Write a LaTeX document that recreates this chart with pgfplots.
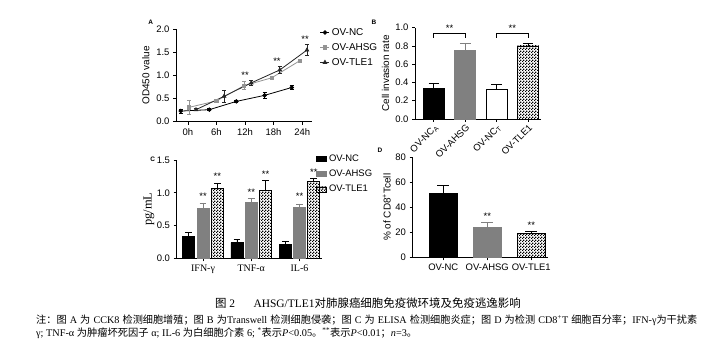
\documentclass[border=0pt]{standalone}
\usepackage{fontspec}
\setmainfont{Liberation Sans}
\newfontfamily\tnr{Liberation Serif}
\newfontfamily\cjk{Noto Sans CJK SC}
\usepackage{pgfplots}
\pgfplotsset{compat=1.18}
\usetikzlibrary{patterns}
\XeTeXlinebreaklocale "zh"
\XeTeXlinebreakskip=0pt plus 3pt

\pgfdeclarepatternformonly{fcheck}{\pgfpointorigin}{\pgfqpoint{3bp}{3bp}}{\pgfqpoint{3bp}{3bp}}{%
 \pgfpathrectangle{\pgfpointorigin}{\pgfqpoint{1.5bp}{1.5bp}}%
 \pgfpathrectangle{\pgfqpoint{1.5bp}{1.5bp}}{\pgfqpoint{1.5bp}{1.5bp}}%
 \pgfusepath{fill}}

\definecolor{ahsg}{gray}{0.5}
\definecolor{ahsgl}{gray}{0.58}
\definecolor{tle}{gray}{0.15}

\tikzset{st/.style={font=\fontsize{9.5}{9.5}\selectfont, inner sep=0pt}}
\pgfplotsset{
  gp/.style={
    scale only axis, anchor=south west, clip=false,
    axis lines=left, axis line style={-, line width=0.8bp, black},
    tick align=outside, tick pos=left, major tick length=3bp,
    tick style={line width=0.8bp, black},
    /pgf/number format/assume math mode=true,
    tick label style={font=\fontsize{9.5}{10}\selectfont},
    label style={font=\fontsize{9.8}{11}\selectfont},
    every axis y label/.style={at={(axis description cs:#1,0.5)}, rotate=90, anchor=center},
    yticklabel style={/pgf/number format/.cd, fixed, fixed zerofill, precision=1},
  },
  cbox/.style={legend image code/.code={\draw[##1,/tikz/.cd,yshift=0bp] (0bp,-2.5bp) rectangle (10bp,2.5bp);}},
}

\begin{document}
\begin{tikzpicture}
\useasboundingbox (0,0) rectangle (704bp,356bp);
\fill[white] (0,0) rectangle (704bp,356bp);

% ---------------- Panel A ----------------
\begin{axis}[gp=-0.222, at={(176bp,234.3bp)}, width=135.7bp, height=92.4bp,
  xmin=-2.5, xmax=26, ymin=0, ymax=2,
  xtick={0,6,12,18,24}, xticklabels={0h,6h,12h,18h,24h},
  ytick={0,0.5,1,1.5,2},
  ylabel={OD450 value},
  legend style={at={(axis description cs:1.06,1.035)}, anchor=north west, draw=none, fill=none,
     font=\fontsize{10}{11}\selectfont, row sep=2.5bp, inner sep=0pt},
  legend cell align=left,
  legend image code/.code={\draw[mark repeat=2,mark phase=2,#1] plot coordinates {(0bp,0bp) (4.5bp,0bp) (9bp,0bp)};},
]
\addplot[black, line width=0.8bp, mark=*, mark size=1.8bp,
  error bars/.cd, y dir=both, y explicit, error bar style={line width=0.7bp},
  error mark options={rotate=90, mark size=2bp, line width=0.7bp}]
  table[y error=e] {
x y e
-1.5 0.23 0.04
4.5 0.26 0.02
10.2 0.44 0.03
16.1 0.57 0.07
21.8 0.74 0.04
};
\addlegendentry{OV-NC}
\addplot[ahsgl, line width=0.8bp, mark=square*, mark size=1.7bp,
  error bars/.cd, y dir=both, y explicit, error bar style={line width=0.7bp},
  error mark options={rotate=90, mark size=2bp, line width=0.7bp}]
  table[y error=e] {
x y e
0.2 0.31 0.15
6.0 0.45 0.03
11.8 0.78 0.09
17.6 0.95 0.04
23.5 1.32 0.03
};
\addlegendentry{OV-AHSG}
\addplot[tle, line width=0.8bp, mark=triangle*, mark size=2bp,
  error bars/.cd, y dir=both, y explicit, error bar style={line width=0.7bp},
  error mark options={rotate=90, mark size=2bp, line width=0.7bp}]
  table[y error=e] {
x y e
1.7 0.26 0.02
7.6 0.55 0.13
13.3 0.84 0.05
19.3 1.12 0.08
25.0 1.55 0.12
};
\addlegendentry{OV-TLE1}
\node[st] at (axis cs:12,1.0) {**};
\node[st] at (axis cs:18.7,1.3) {**};
\node[st] at (axis cs:24.6,1.78) {**};
\end{axis}

% ---------------- Panel B ----------------
\begin{axis}[gp=-0.235, at={(415bp,237bp)}, width=125.7bp, height=91.3bp,
  xmin=0.4, xmax=4.4, ymin=0, ymax=1, ytick={0,0.2,0.4,0.6,0.8,1.0},
  xtick={1,2,3,4},
  xticklabels={OV-NC\textsubscript{A}, OV-AHSG, OV-NC\textsubscript{T}, OV-TLE1},
  xticklabel style={rotate=45, anchor=north east, inner sep=1bp},
  ylabel={Cell invasion rate}, bar width=21bp,
]
\addplot[ybar, bar shift=0pt, fill=black, draw=black, line width=0.8bp,
  error bars/.cd, y dir=plus, y explicit, error bar style={line width=0.8bp, black},
  error mark options={rotate=90, mark size=5.3bp, line width=0.8bp, black}]
  coordinates {(1,0.335) +- (0,0.055)};
\addplot[ybar, bar shift=0pt, fill=ahsg, draw=ahsg, line width=0.8bp,
  error bars/.cd, y dir=plus, y explicit, error bar style={line width=0.8bp, ahsg},
  error mark options={rotate=90, mark size=5.3bp, line width=0.8bp, ahsg}]
  coordinates {(2,0.75) +- (0,0.08)};
\addplot[ybar, bar shift=0pt, fill=white, draw=black, line width=0.8bp,
  error bars/.cd, y dir=plus, y explicit, error bar style={line width=0.8bp, black},
  error mark options={rotate=90, mark size=5.3bp, line width=0.8bp, black}]
  coordinates {(3,0.325) +- (0,0.055)};
\addplot[ybar, bar shift=0pt, pattern=fcheck, pattern color=black, draw=black, line width=0.8bp,
  error bars/.cd, y dir=plus, y explicit, error bar style={line width=0.8bp, black},
  error mark options={rotate=90, mark size=5.3bp, line width=0.8bp, black}]
  coordinates {(4,0.80) +- (0,0.03)};
\addplot[black, line width=0.8bp, no marks, sharp plot] coordinates {(1,0.89) (1,0.935) (2,0.935) (2,0.89)};
\addplot[black, line width=0.8bp, no marks, sharp plot] coordinates {(3,0.89) (3,0.935) (4,0.935) (4,0.89)};
\node[st] at (axis cs:1.5,0.99) {**};
\node[st] at (axis cs:3.5,0.99) {**};
\end{axis}

% ---------------- Panel C ----------------
\begin{axis}[gp=-0.19, at={(176.5bp,97.7bp)}, width=145.2bp, height=98.3bp,
  xmin=-0.55, xmax=2.46, ymin=0, ymax=1.5, ytick={0,0.5,1,1.5},
  xtick={0,1,2}, xticklabels={IFN-γ, TNF-α, IL-6},
  xticklabel style={font=\tnr\fontsize{10}{10}\selectfont},
  ylabel={\tnr\fontsize{12.5}{12}\selectfont pg/mL}, bar width=12bp,
  legend style={at={(axis description cs:0.961,1.071)}, anchor=north west, draw=none, fill=none,
     font=\fontsize{9.5}{10}\selectfont, row sep=3bp, inner sep=0pt},
  legend cell align=left,
]
\addplot[ybar, bar shift=0pt, cbox, fill=black, draw=black, line width=0.8bp,
  error bars/.cd, y dir=plus, y explicit, error bar style={line width=0.8bp, black},
  error mark options={rotate=90, mark size=3.3bp, line width=0.8bp, black}]
  coordinates {(-0.296,0.33) +- (0,0.065) (0.704,0.24) +- (0,0.05) (1.704,0.21) +- (0,0.05)};
\addlegendentry{OV-NC}
\addplot[ybar, bar shift=0pt, cbox, fill=ahsg, draw=ahsg, line width=0.8bp,
  error bars/.cd, y dir=plus, y explicit, error bar style={line width=0.8bp, ahsg},
  error mark options={rotate=90, mark size=3.3bp, line width=0.8bp, ahsg}]
  coordinates {(0,0.76) +- (0,0.085) (1,0.85) +- (0,0.065) (2,0.77) +- (0,0.06)};
\addlegendentry{OV-AHSG}
\addplot[ybar, bar shift=0pt, cbox, pattern=fcheck, pattern color=black, draw=black, line width=0.8bp,
  error bars/.cd, y dir=plus, y explicit, error bar style={line width=0.8bp, black},
  error mark options={rotate=90, mark size=3.3bp, line width=0.8bp, black}]
  coordinates {(0.296,1.07) +- (0,0.07) (1.296,1.04) +- (0,0.15) (2.296,1.17) +- (0,0.05)};
\addlegendentry{OV-TLE1}
\node[st] at (axis cs:0,0.95) {**};
\node[st] at (axis cs:1,1.01) {**};
\node[st] at (axis cs:2,0.94) {**};
\node[st] at (axis cs:0.296,1.25) {**};
\node[st] at (axis cs:1.296,1.29) {**};
\node[st] at (axis cs:2.296,1.32) {**};
\end{axis}

% ---------------- Panel D ----------------
\begin{axis}[gp=-0.19, at={(412.5bp,98.7bp)}, width=135.5bp, height=100bp,
  xmin=0.3, xmax=3.38, ymin=0, ymax=80, ytick={0,20,40,60,80},
  yticklabel style={/pgf/number format/precision=0},
  xtick={1,2,3}, xticklabels={OV-NC, OV-AHSG, OV-TLE1},
  ylabel={\% of CD8\textsuperscript{+}Tcell}, bar width=28.5bp,
]
\addplot[ybar, bar shift=0pt, fill=black, draw=black, line width=0.8bp,
  error bars/.cd, y dir=plus, y explicit, error bar style={line width=0.8bp, black},
  error mark options={rotate=90, mark size=6bp, line width=0.8bp, black}]
  coordinates {(1,51) +- (0,6.5)};
\addplot[ybar, bar shift=0pt, fill=ahsg, draw=ahsg, line width=0.8bp,
  error bars/.cd, y dir=plus, y explicit, error bar style={line width=0.8bp, ahsg},
  error mark options={rotate=90, mark size=6bp, line width=0.8bp, ahsg}]
  coordinates {(2,24) +- (0,4)};
\addplot[ybar, bar shift=0pt, pattern=fcheck, pattern color=black, draw=black, line width=0.8bp,
  error bars/.cd, y dir=plus, y explicit, error bar style={line width=0.8bp, black},
  error mark options={rotate=90, mark size=6bp, line width=0.8bp, black}]
  coordinates {(3,19) +- (0,1.5)};
\node[st] at (axis cs:2,33) {**};
\node[st] at (axis cs:3,25.5) {**};
\end{axis}

% panel letters
\node[font=\bfseries\fontsize{6.5}{7}\selectfont] at (150.7bp,333.3bp) {A};
\node[font=\bfseries\fontsize{6.5}{7}\selectfont] at (374bp,333.3bp) {B};
\node[font=\bfseries\fontsize{6.5}{7}\selectfont] at (152.7bp,197bp) {C};
\node[font=\bfseries\fontsize{6.5}{7}\selectfont] at (380bp,206bp) {D};

% caption
\node[font=\tnr\fontsize{11.5}{12}\selectfont, inner sep=0pt] at (368bp,53bp)
  {{\cjk 图} 2\hspace{1.6em}AHSG/TLE1{\cjk 对肺腺癌细胞免疫微环境及免疫逃逸影响}};
\node[font=\tnr\fontsize{10.2}{12}\selectfont, inner sep=0pt, anchor=west] at (36bp,36bp)
  {\makebox[661bp][s]{{\cjk 注：图} A {\cjk 为} CCK8 {\cjk 检测细胞增殖；图} B {\cjk 为}Transwell {\cjk 检测细胞侵袭；图} C {\cjk 为} ELISA {\cjk 检测细胞炎症；图} D {\cjk 为检测} CD8\textsuperscript{+}T {\cjk 细胞百分率；}IFN-γ{\cjk 为干扰素}}};
\node[font=\tnr\fontsize{10.3}{12}\selectfont, inner sep=0pt, anchor=west] at (36bp,23bp)
  {γ; TNF-α {\cjk 为肿瘤坏死因子} α; IL-6 {\cjk 为白细胞介素} 6; \textsuperscript{*}{\cjk 表示}\textit{P}<0.05{\cjk 。}\textsuperscript{**}{\cjk 表示}\textit{P}<0.01{\cjk ；}\textit{n}=3{\cjk 。}};
\end{tikzpicture}
\end{document}
